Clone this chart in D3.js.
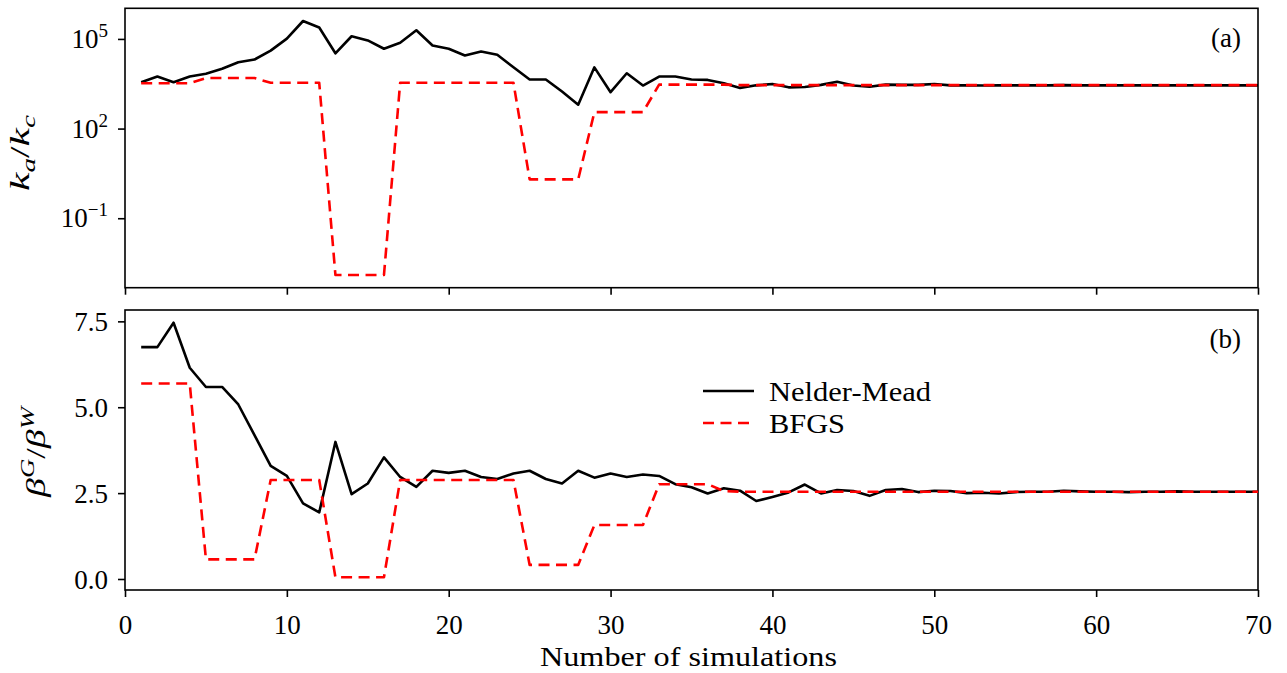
<!DOCTYPE html>
<html>
<head>
<meta charset="utf-8">
<script src="https://cdn.jsdelivr.net/npm/d3@7"></script>
<style>
  body { margin: 0; background: #fff; }
  svg text { font-family: "Liberation Serif", "Times New Roman", serif; fill: #000; }
</style>
</head>
<body>
<div id="wrapper"></div>
<script>
// simulation index 1..70
const simulations = d3.range(1, 71)

// k_a / k_c, Nelder-Mead
const nmRatio = [
  3550, 5500, 3550, 5500, 6800, 10000, 16600, 20400, 40700, 102000,
  398000, 240000, 33000, 123000, 89000, 47000, 74000, 195000, 60000, 47000,
  28000, 38000, 29500, 11200, 4400, 4400, 1740, 630, 11200, 1650,
  7100, 2760, 5500, 5500, 4400, 4250, 3300, 2300, 2800, 3100,
  2400, 2450, 2900, 3700, 2750, 2500, 2950, 2900, 2900, 3100,
  2800, 2800, 2750, 2800, 2800, 2800, 2800, 2850, 2800, 2800,
  2800, 2800, 2800, 2800, 2800, 2800, 2800, 2800, 2800, 2800
]
// k_a / k_c, BFGS
const bfgsRatio = [
  3300, 3300, 3300, 3300, 4900, 4900, 4900, 4900, 3400, 3400,
  3400, 3400, 0.00126, 0.00126, 0.00126, 0.00126, 3400, 3400, 3400, 3400,
  3400, 3400, 3400, 3400, 2.0, 2.0, 2.0, 2.0, 355, 355,
  355, 355, 2950, 2950, 2950, 2950, 2950, 2850, 2850, 2850,
  2850, 2850, 2850, 2850, 2850, 2850, 2850, 2850, 2850, 2850,
  2850, 2850, 2850, 2850, 2850, 2850, 2850, 2850, 2850, 2850,
  2850, 2850, 2850, 2850, 2850, 2850, 2850, 2850, 2850, 2850
]
// beta^G / beta^W, Nelder-Mead
const nmBeta = [
  6.75, 6.75, 7.46, 6.15, 5.59, 5.59, 5.08, 4.19, 3.29, 3.00,
  2.20, 1.94, 3.99, 2.47, 2.78, 3.54, 2.97, 2.68, 3.15, 3.09,
  3.15, 2.97, 2.91, 3.07, 3.15, 2.91, 2.78, 3.15, 2.95, 3.07,
  2.97, 3.04, 3.00, 2.76, 2.67, 2.49, 2.64, 2.57, 2.27, 2.39,
  2.52, 2.75, 2.49, 2.59, 2.56, 2.42, 2.59, 2.62, 2.53, 2.57,
  2.56, 2.50, 2.51, 2.49, 2.53, 2.54, 2.54, 2.57, 2.55, 2.54,
  2.54, 2.53, 2.54, 2.54, 2.55, 2.54, 2.54, 2.54, 2.54, 2.54
]
// beta^G / beta^W, BFGS
const bfgsBeta = [
  5.69, 5.69, 5.69, 5.69, 0.57, 0.57, 0.57, 0.57, 2.88, 2.88,
  2.88, 2.88, 0.05, 0.05, 0.05, 0.05, 2.88, 2.88, 2.88, 2.88,
  2.88, 2.88, 2.88, 2.88, 0.41, 0.41, 0.41, 0.41, 1.57, 1.57,
  1.57, 1.57, 2.76, 2.76, 2.76, 2.76, 2.56, 2.54, 2.54, 2.54,
  2.54, 2.54, 2.54, 2.54, 2.54, 2.54, 2.54, 2.54, 2.54, 2.54,
  2.54, 2.54, 2.54, 2.54, 2.54, 2.54, 2.54, 2.54, 2.54, 2.54,
  2.54, 2.54, 2.54, 2.54, 2.54, 2.54, 2.54, 2.54, 2.54, 2.54
]

const xTicks = [0, 10, 20, 30, 40, 50, 60, 70]
const ratioTicks = [1e-1, 1e2, 1e5]
const betaTicks = [0, 2.5, 5, 7.5]
const seriesNames = ["Nelder-Mead", "BFGS"]

async function drawChart() {

  // 1. Chart dimensions
  const dimensions = {
    width: 1287,
    height: 673,
    left: 125,
    right: 1258,
    top: { y0: 8.3, y1: 287.7 },
    bottom: { y0: 310, y1: 590 },
  }
  const fontSize = 27
  const supSize = 19

  // 2. Canvas
  const svg = d3.select("#wrapper")
    .append("svg")
      .attr("width", dimensions.width)
      .attr("height", dimensions.height)
  svg.append("rect")
      .attr("width", dimensions.width)
      .attr("height", dimensions.height)
      .attr("fill", "#fff")

  // 3. Scales (5% padding like matplotlib autoscale)
  const xScale = d3.scaleLinear()
      .domain([0, 70])
      .range([dimensions.left, dimensions.right])

  const logExt = d3.extent(nmRatio.concat(bfgsRatio)).map(Math.log10)
  const logPad = (logExt[1] - logExt[0]) * 0.05
  const yTop = d3.scaleLog()
      .domain([10 ** (logExt[0] - logPad), 10 ** (logExt[1] + logPad)])
      .range([dimensions.top.y1, dimensions.top.y0])

  const betaExt = d3.extent(nmBeta.concat(bfgsBeta))
  const betaPad = (betaExt[1] - betaExt[0]) * 0.05
  const yBottom = d3.scaleLinear()
      .domain([betaExt[0] - betaPad, betaExt[1] + betaPad])
      .range([dimensions.bottom.y1, dimensions.bottom.y0])

  // 4. Axes, frames
  const styleAxis = g => {
    g.select(".domain").remove()
    g.selectAll(".tick line").attr("stroke", "#000").attr("stroke-width", 1.6)
    g.selectAll(".tick text")
        .style("font-size", `${fontSize}px`)
  }

  svg.append("g")
      .attr("transform", `translate(0,${dimensions.top.y1})`)
      .call(d3.axisBottom(xScale).tickValues(xTicks).tickFormat("").tickSize(7).tickSizeOuter(0))
      .call(styleAxis)

  svg.append("g")
      .attr("transform", `translate(0,${dimensions.bottom.y1})`)
      .call(d3.axisBottom(xScale).tickValues(xTicks).tickFormat(d3.format("d")).tickSize(7).tickPadding(9).tickSizeOuter(0))
      .call(styleAxis)
      .call(g => g.selectAll(".tick text").attr("dy", "1.05em"))

  svg.append("g")
      .attr("transform", `translate(${dimensions.left},0)`)
      .call(d3.axisLeft(yTop).tickValues(ratioTicks).tickFormat("").tickSize(7).tickSizeOuter(0))
      .call(styleAxis)

  svg.append("g")
      .attr("transform", `translate(${dimensions.left},0)`)
      .call(d3.axisLeft(yBottom).tickValues(betaTicks).tickFormat(d3.format(".1f")).tickSize(7).tickPadding(10).tickSizeOuter(0))
      .call(styleAxis)
      .call(g => g.selectAll(".tick text").attr("dy", "0.35em"))

  // log tick labels with superscript exponents
  const expLabels = svg.append("g").selectAll("text")
    .data(ratioTicks)
    .join("text")
      .attr("x", dimensions.left - 17)
      .attr("y", d => yTop(d) + 9)
      .attr("text-anchor", "end")
      .style("font-size", `${fontSize}px`)
  expLabels.append("tspan").text("10")
  expLabels.append("tspan")
      .attr("dy", -11)
      .style("font-size", `${supSize}px`)
      .text(d => String(Math.round(Math.log10(d))).replace("-", "\u2212"))

  ;[dimensions.top, dimensions.bottom].forEach(p => {
    svg.append("rect")
        .attr("x", dimensions.left)
        .attr("y", p.y0)
        .attr("width", dimensions.right - dimensions.left)
        .attr("height", p.y1 - p.y0)
        .attr("fill", "none")
        .attr("stroke", "#000")
        .attr("stroke-width", 1.6)
  })

  // 5. Lines
  const clipTop = svg.append("clipPath").attr("id", "clip-top")
    .append("rect")
      .attr("x", dimensions.left).attr("y", dimensions.top.y0)
      .attr("width", dimensions.right - dimensions.left)
      .attr("height", dimensions.top.y1 - dimensions.top.y0)
  const clipBottom = svg.append("clipPath").attr("id", "clip-bottom")
    .append("rect")
      .attr("x", dimensions.left).attr("y", dimensions.bottom.y0)
      .attr("width", dimensions.right - dimensions.left)
      .attr("height", dimensions.bottom.y1 - dimensions.bottom.y0)

  const lineTop = d3.line()
      .x((d, i) => xScale(simulations[i]))
      .y(d => yTop(d))
  const lineBottom = d3.line()
      .x((d, i) => xScale(simulations[i]))
      .y(d => yBottom(d))

  const solid = sel => sel.attr("fill", "none").attr("stroke", "#000")
      .attr("stroke-width", 2.6).attr("stroke-linejoin", "round")
  const dashed = sel => sel.attr("fill", "none").attr("stroke", "#ff0000")
      .attr("stroke-width", 2.6).attr("stroke-dasharray", "11,6.5")
      .attr("stroke-linejoin", "round")

  const topGroup = svg.append("g").attr("clip-path", "url(#clip-top)")
  topGroup.append("path").attr("d", lineTop(nmRatio)).call(solid)
  topGroup.append("path").attr("d", lineTop(bfgsRatio)).call(dashed)

  const bottomGroup = svg.append("g").attr("clip-path", "url(#clip-bottom)")
  bottomGroup.append("path").attr("d", lineBottom(nmBeta)).call(solid)
  bottomGroup.append("path").attr("d", lineBottom(bfgsBeta)).call(dashed)

  // 6. Peripherals
  svg.append("text")
      .attr("x", (dimensions.left + dimensions.right) / 2 - 3)
      .attr("y", 666)
      .attr("text-anchor", "middle")
      .attr("textLength", 297)
      .attr("lengthAdjust", "spacingAndGlyphs")
      .style("font-size", `${fontSize}px`)
      .text("Number of simulations")

  // y label, top: k_a / k_c
  const topLabel = svg.append("text")
      .attr("transform", `translate(29,${(dimensions.top.y0 + dimensions.top.y1) / 2 + 5}) rotate(-90)`)
      .attr("text-anchor", "middle")
      .attr("textLength", 76)
      .attr("lengthAdjust", "spacingAndGlyphs")
      .style("font-size", `${fontSize}px`)
  topLabel.append("tspan").style("font-style", "italic").text("k")
  topLabel.append("tspan").attr("dy", 6).style("font-style", "italic").style("font-size", `${supSize}px`).text("a")
  topLabel.append("tspan").attr("dy", -6).text("/")
  topLabel.append("tspan").style("font-style", "italic").text("k")
  topLabel.append("tspan").attr("dy", 6).style("font-style", "italic").style("font-size", `${supSize}px`).text("c")

  // y label, bottom: beta^G / beta^W
  const bottomLabel = svg.append("text")
      .attr("transform", `translate(45,${(dimensions.bottom.y0 + dimensions.bottom.y1) / 2 + 2}) rotate(-90)`)
      .attr("text-anchor", "middle")
      .attr("textLength", 90)
      .attr("lengthAdjust", "spacingAndGlyphs")
      .style("font-size", `${fontSize}px`)
  bottomLabel.append("tspan").style("font-style", "italic").text("β")
  bottomLabel.append("tspan").attr("dy", -11).style("font-style", "italic").style("font-size", `${supSize}px`).text("G")
  bottomLabel.append("tspan").attr("dy", 11).text("/")
  bottomLabel.append("tspan").style("font-style", "italic").text("β")
  bottomLabel.append("tspan").attr("dy", -11).style("font-style", "italic").style("font-size", `${supSize}px`).text("W")

  // panel tags
  svg.append("text")
      .attr("x", 1241).attr("y", 47)
      .attr("text-anchor", "end")
      .style("font-size", `${fontSize}px`)
      .text("(a)")
  svg.append("text")
      .attr("x", 1241).attr("y", 348)
      .attr("text-anchor", "end")
      .style("font-size", `${fontSize}px`)
      .text("(b)")

  // legend
  const legend = svg.append("g")
      .attr("transform", "translate(703,391)")
  const legendRows = legend.selectAll("g")
    .data(seriesNames)
    .join("g")
      .attr("transform", (d, i) => `translate(0,${i * 32})`)
  legendRows.append("line")
      .attr("x1", 0).attr("x2", 51)
      .each(function (d, i) { d3.select(this).call(i === 0 ? solid : dashed) })
  legendRows.append("text")
      .attr("x", 66)
      .attr("y", 9.5)
      .attr("textLength", (d, i) => i === 0 ? 162 : 76)
      .attr("lengthAdjust", "spacingAndGlyphs")
      .style("font-size", `${fontSize}px`)
      .text(d => d)
}
drawChart()
</script>
</body>
</html>
